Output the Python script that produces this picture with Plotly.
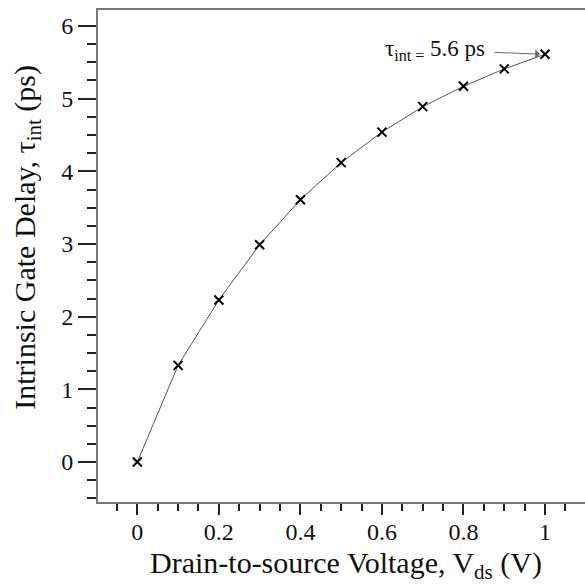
import plotly.graph_objects as go

vds = [0, 0.1, 0.2, 0.3, 0.4, 0.5, 0.6, 0.7, 0.8, 0.9, 1.0]
tau_int = [0, 1.33, 2.23, 2.99, 3.61, 4.12, 4.54, 4.89, 5.17, 5.41, 5.61]
x_ticks = [0, 0.2, 0.4, 0.6, 0.8, 1]
x_tick_labels = ["0", "0.2", "0.4", "0.6", "0.8", "1"]
y_ticks = [0, 1, 2, 3, 4, 5, 6]
y_tick_labels = ["0", "1", "2", "3", "4", "5", "6"]

FONT = "Liberation Serif, Times New Roman, serif"

fig = go.Figure()
fig.add_trace(go.Scatter(
    x=vds, y=tau_int, mode="lines+markers",
    line=dict(color="#555555", width=1),
    marker=dict(symbol="x-thin", size=9, color="black",
                line=dict(color="black", width=2)),
    showlegend=False,
))

fig.add_annotation(
    x=vds[-1], y=tau_int[-1], xref="x", yref="y",
    ax=-52, ay=-2, axref="pixel", ayref="pixel",
    text="", showarrow=True, arrowhead=1, arrowsize=1.6, arrowwidth=1,
    arrowcolor="#666666", standoff=5,
)
fig.add_annotation(
    x=0.858, y=5.67, xref="x", yref="y", xanchor="right", yanchor="middle",
    text="τ<sub>int =</sub> 5.6 ps", showarrow=False,
    font=dict(family=FONT, size=23, color="#111111"),
)
fig.add_annotation(
    x=0.509, y=-0.128, xref="paper", yref="paper", xanchor="center", yanchor="middle",
    text="Drain-to-source Voltage, V<sub>ds</sub> (V)", showarrow=False,
    font=dict(family=FONT, size=30, color="#111111"),
)
fig.add_annotation(
    x=-0.146, y=0.539, xref="paper", yref="paper", xanchor="center", yanchor="middle",
    text="Intrinsic Gate Delay, τ<sub>int</sub> (ps)", showarrow=False, textangle=-90,
    font=dict(family=FONT, size=30, color="#111111"),
)

fig.update_layout(
    width=585, height=584,
    margin=dict(l=98, r=0, t=10, b=82, autoexpand=False),
    paper_bgcolor="white", plot_bgcolor="white",
    font=dict(family=FONT, color="#111111"),
)
fig.update_xaxes(
    range=[-0.0964, 1.098], tickvals=x_ticks, ticktext=x_tick_labels,
    ticks="outside", ticklen=11, tickwidth=2, tickcolor="#222222",
    tickfont=dict(family=FONT, size=24, color="#111111"), ticklabelstandoff=-4,
    showline=True, linecolor="#777777", linewidth=2, mirror=True,
    showgrid=False, zeroline=False, automargin=False,
    minor=dict(dtick=0.05, tick0=0, ticks="outside", ticklen=7, tickwidth=2, tickcolor="#222222"),
)
fig.update_yaxes(
    range=[-0.55, 6.22], tickvals=y_ticks, ticktext=y_tick_labels,
    ticks="outside", ticklen=18, tickwidth=2, tickcolor="#222222",
    tickfont=dict(family=FONT, size=24, color="#111111"),
    showline=True, linecolor="#777777", linewidth=2, mirror=False,
    showgrid=False, zeroline=False, automargin=False,
    minor=dict(dtick=0.25, tick0=0, ticks="outside", ticklen=9, tickwidth=2, tickcolor="#222222"),
)

fig.write_html("out.html", config={"displayModeBar": False},
               post_script="document.body.style.margin='0px';")
